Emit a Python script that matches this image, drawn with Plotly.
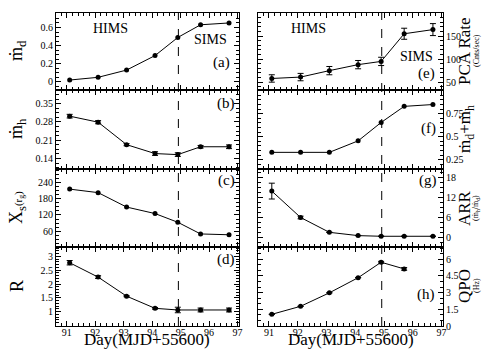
import plotly.graph_objects as go

# ---------------- data ----------------
days = [91.1, 92.1, 93.1, 94.1, 94.9, 95.7, 96.7]
days_qpo = [91.1, 92.1, 93.1, 94.1, 94.9, 95.7]

md = [0.02, 0.05, 0.13, 0.29, 0.49, 0.63, 0.65]
mh = [0.302, 0.279, 0.193, 0.159, 0.155, 0.185, 0.185]
mh_err = [0.007, 0.006, 0.004, 0.007, 0.007, 0.005, 0.007]
xs = [215, 202, 149, 125, 93, 50, 47]
r_val = [2.77, 2.25, 1.56, 1.12, 1.06, 1.06, 1.06]
r_err = [0.08, 0.05, 0.02, 0.03, 0.10, 0.07, 0.07]
pca = [58, 61, 75, 88, 95, 155, 164]
pca_err = [8, 8, 9, 9, 9, 12, 13]
mdmh = [0.33, 0.33, 0.33, 0.455, 0.655, 0.83, 0.85]
arr = [14.0, 6.0, 1.5, 0.5, 0.3, 0.3, 0.3]
arr_err = [2.4, 0.4, 0.0, 0.0, 0.0, 0.0, 0.0]
qpo = [1.05, 1.77, 2.98, 4.34, 5.73, 5.13]
qpo_err = [0.0, 0.0, 0.0, 0.0, 0.08, 0.12]

transition_day = 94.92
x_ticks = [91, 92, 93, 94, 95, 96, 97]

# ---------------- layout helpers ----------------
W, H = 491, 349
ML, MR, MT, MB = 48, W - 435, 5, H - 318
PW, PH = W - ML - MR, H - MT - MB


def px(x):
    return (x - ML) / PW


def py(y):
    return (H - MB - y) / PH


FONT = "Liberation Serif"
left_dom = [0, px(231)]
right_dom = [px(250), 1]
row_bounds = [(5, 82), (82, 161), (161, 239), (239, 318)]
row_doms = [[py(b), py(t)] for t, b in row_bounds]

fig = go.Figure()

panels = [
    (1, 0, 0, md, None, days, [-0.09, 0.76], [0, 0.2, 0.4, 0.6], ["0", "0.2", "0.4", "0.6"], 0.05),
    (2, 0, 1, mh, mh_err, days, [0.10, 0.402], [0.14, 0.21, 0.28, 0.35], ["0.14", "0.21", "0.28", "0.35"], 0.0175),
    (3, 0, 2, xs, None, days, [2, 289], [60, 120, 180, 240], ["60", "120", "180", "240"], 15),
    (4, 0, 3, r_val, r_err, days, [0.48, 3.34], [1, 1.5, 2, 2.5, 3], ["1", "1.5", "2", "2.5", "3"], 0.1),
    (5, 1, 0, pca, pca_err, days, [33, 200], [50, 100, 150, 200], ["50", "100", "150", "200"], 10),
    (6, 1, 1, mdmh, None, days, [0.149, 1.008], [0.25, 0.5, 0.75], ["0.25", "0.5", "0.75"], 0.05),
    (7, 1, 2, arr, arr_err, days, [-2.95, 20.7], [0, 6, 12, 18], ["0", "6", "12", "18"], 1.5),
    (8, 1, 3, qpo, qpo_err, days_qpo, [0, 7.1], [0, 1.5, 3, 4.5, 6], ["0", "1.5", "3", "4.5", "6"], 0.5),
]

tickfont = dict(family=FONT, size=10, color="black")

for idx, col, row, yv, err, xv, yr, tv, tt, mdt in panels:
    sfx = "" if idx == 1 else str(idx)
    tr = dict(
        x=xv, y=yv, mode="lines+markers",
        line=dict(color="black", width=1),
        marker=dict(color="black", size=5),
        xaxis="x" + sfx, yaxis="y" + sfx, showlegend=False,
    )
    if err is not None:
        tr["error_y"] = dict(type="data", array=err, visible=True,
                             color="black", thickness=1, width=3)
    fig.add_trace(go.Scatter(**tr))

    xa = dict(
        domain=left_dom if col == 0 else right_dom,
        anchor="y" + sfx,
        range=[90.62, 97.05],
        tickvals=x_ticks, ticktext=[str(v) for v in x_ticks],
        showticklabels=(row == 3),
        ticklabelstandoff=-3,
        ticks="inside", ticklen=5, tickwidth=1, tickcolor="black",
        minor=dict(dtick=0.2, ticks="inside", ticklen=3, tickcolor="black", tickwidth=1),
        showline=True, linecolor="black", linewidth=1, mirror="allticks",
        showgrid=False, zeroline=False, tickfont=tickfont,
    )
    ya = dict(
        domain=row_doms[row],
        anchor="x" + sfx,
        range=yr,
        tickvals=tv, ticktext=tt,
        side="left" if col == 0 else "right",
        ticks="inside", ticklen=5, tickwidth=1, tickcolor="black",
        minor=dict(dtick=mdt, ticks="inside", ticklen=3, tickcolor="black", tickwidth=1),
        showline=True, linecolor="black", linewidth=1, mirror="allticks",
        showgrid=False, zeroline=False, tickfont=tickfont,
    )
    fig.update_layout(**{"xaxis" + sfx: xa, "yaxis" + sfx: ya})

# dashed transition lines
for xref in ["x", "x5"]:
    fig.add_shape(type="line", xref=xref, yref="paper",
                  x0=transition_day, x1=transition_day, y0=0, y1=1,
                  line=dict(color="black", width=1, dash="dash"))

ann = []


def add_text(x, y, text, size, angle=0, shift=None):
    # empirical correction of where the renderer puts the glyphs relative to the anchor
    if angle == 0:
        y = y - size * 0.47
    else:
        x = x - (shift if shift is not None else size * 0.35)
    ann.append(dict(x=px(x), y=py(y), xref="paper", yref="paper", text=text,
                    showarrow=False, textangle=angle,
                    font=dict(family=FONT, size=size, color="black"),
                    xanchor="center", yanchor="middle"))


# panel labels
add_text(102, 27, "HIMS", 14)
add_text(202, 38, "SIMS", 14)
add_text(213, 62, "(a)", 15)
add_text(218, 103, "(b)", 15)
add_text(218, 180, "(c)", 15)
add_text(218, 259, "(d)", 15)
add_text(300, 27, "HIMS", 14)
add_text(408, 55, "SIMS", 14)
add_text(418, 73, "(e)", 15)
add_text(420, 128, "(f)", 15)
add_text(420, 180, "(g)", 15)
add_text(418, 294, "(h)", 15)

# y titles left
LS = 6
add_text(15, 43, "ṁ<sub>d</sub>", 18, -90, LS)
add_text(15, 121, "ṁ<sub>h</sub>", 18, -90, LS)
add_text(15, 200, "X<sub>s</sub><span style='font-size:11px'>(r<sub>g</sub>)</span>", 18, -90, LS)
add_text(15, 278, "R", 18, -90, LS)

# y titles right
RM, RSM = 13, 13
add_text(469, 43, "PCA Rate", 17, -90, RM)
add_text(481, 43, "(Cnts/sec)", 8, -90, RSM)
add_text(471, 121, "ṁ<sub>d</sub>+ṁ<sub>h</sub>", 17, -90, RM)
add_text(469, 200, "ARR", 17, -90, RM)
add_text(481, 200, "(ṁ<sub>h</sub>/ṁ<sub>d</sub>)", 8, -90, RSM)
add_text(469, 278, "QPO", 17, -90, RM)
add_text(481, 278, "(Hz)", 8, -90, RSM)

# x titles
add_text(139, 339, "Day(MJD+55600)", 17)
add_text(343, 339, "Day(MJD+55600)", 17)

fig.update_layout(
    width=W, height=H,
    margin=dict(l=ML, r=MR, t=MT, b=MB, autoexpand=False),
    paper_bgcolor="white", plot_bgcolor="white",
    annotations=ann,
    font=dict(family=FONT, color="black"),
)

fig.write_html("out.html")
